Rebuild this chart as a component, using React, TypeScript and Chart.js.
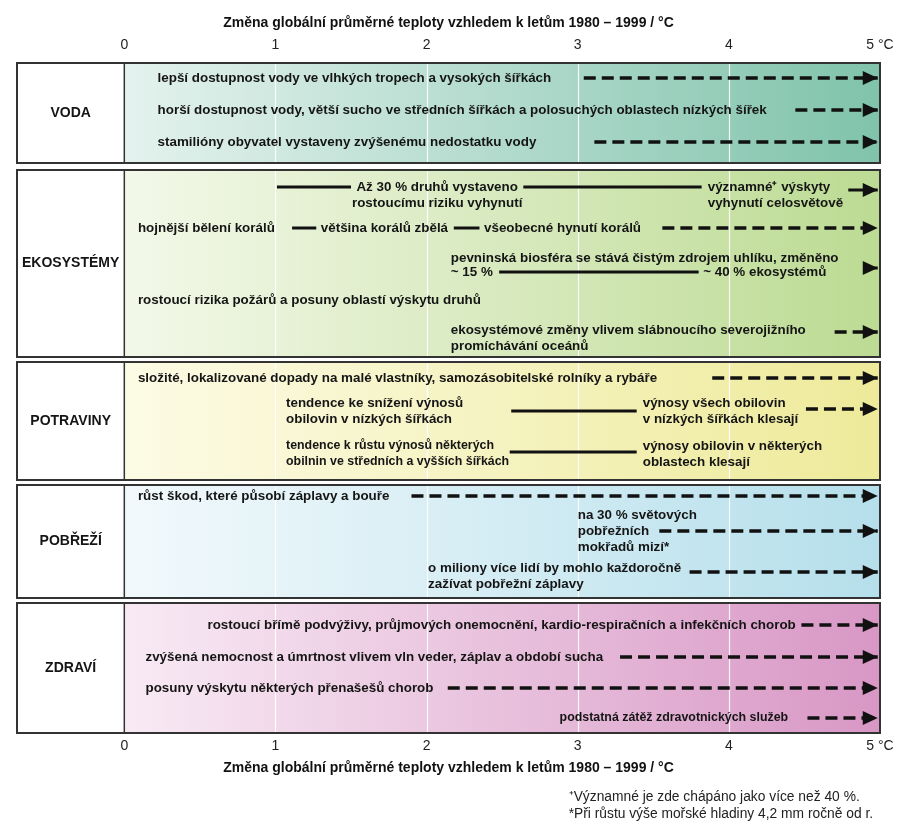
import React, { useEffect, useRef } from 'react';
import { Chart, registerables } from 'chart.js';
Chart.register(...registerables);

const FONT = '"Liberation Sans", Arial, sans-serif';

const PANELS = ['VODA', 'EKOSYSTÉMY', 'POTRAVINY', 'POBŘEŽÍ', 'ZDRAVÍ'];
const PANEL_FROM = [0, 10.7, 29.9, 42.2, 54.0];
const PANEL_TO = [10.0, 29.4, 41.7, 53.5, 67.0];
const PANEL_LEFT_COLORS = ['#e4f2ee', '#f3f8e9', '#fcfbe5', '#f2f9fc', '#f8eaf4'];
const PANEL_RIGHT_COLORS = ['#80c3ab', '#bcdb93', '#eeea9a', '#b5dfeb', '#d897c5'];

const X_TICKS = [0, 1, 2, 3, 4, 5];
const X_TICK_LABELS = ['0', '1', '2', '3', '4', '5 °C'];
const AXIS_TITLE = 'Změna globální průměrné teploty vzhledem k letům 1980 – 1999 / °C';

// dashed trends ending with an arrow: [from °C, to °C, row]
const DASHED: number[][] = [
  [3.04, 4.985, 1.5], [4.44, 4.985, 4.7], [3.11, 4.985, 7.9],
  [3.56, 4.985, 16.5], [4.70, 4.985, 26.9],
  [3.89, 4.985, 31.5], [4.51, 4.985, 34.6],
  [1.90, 4.985, 43.3], [3.54, 4.985, 46.8], [3.74, 4.985, 50.9],
  [4.48, 4.985, 56.2], [3.28, 4.985, 59.4], [2.14, 4.985, 62.5], [4.52, 4.985, 65.5],
];
// solid connectors: [from °C, to °C, row]
const SOLID: number[][] = [
  [1.01, 1.50, 12.4], [2.64, 3.82, 12.4],
  [1.11, 1.27, 16.5], [2.18, 2.35, 16.5],
  [2.48, 3.80, 20.9],
  [2.56, 3.39, 34.8], [2.55, 3.39, 38.9],
];
// solid with arrow: [from °C, to °C, row]
const SOLID_ARROWS: number[][] = [[4.79, 4.985, 12.7], [4.92, 4.985, 20.5]];

// text labels: [text, x °C, row, align]
const LABELS: [string, number, number, string][] = [
  ['lepší dostupnost vody ve vlhkých tropech a vysokých šířkách', 0.22, 1.5, 'left'],
  ['horší dostupnost vody, větší sucho ve středních šířkách a polosuchých oblastech nízkých šířek', 0.22, 4.7, 'left'],
  ['stamilióny obyvatel vystaveny zvýšenému nedostatku vody', 0.22, 7.9, 'left'],
  ['Až 30 % druhů vystaveno\nrostoucímu riziku vyhynutí', 2.07, 12.4, 'center'],
  ['významné⁺ výskyty\nvyhynutí celosvětově', 3.86, 12.4, 'left'],
  ['hojnější bělení korálů', 0.09, 16.5, 'left'],
  ['většina korálů zbělá', 1.30, 16.5, 'left'],
  ['všeobecné hynutí korálů', 2.38, 16.5, 'left'],
  ['pevninská biosféra se stává čistým zdrojem uhlíku, změněno', 2.16, 19.5, 'left'],
  ['~ 15 %', 2.16, 20.9, 'left'],
  ['~ 40 % ekosystémů', 3.83, 20.9, 'left'],
  ['rostoucí rizika požárů a posuny oblastí výskytu druhů', 0.09, 23.7, 'left'],
  ['ekosystémové změny vlivem slábnoucího severojižního\npromíchávání oceánů', 2.16, 26.7, 'left'],
  ['složité, lokalizované dopady na malé vlastníky, samozásobitelské rolníky a rybáře', 0.09, 31.5, 'left'],
  ['tendence ke snížení výnosů\nobilovin v nízkých šířkách', 1.07, 34.0, 'left'],
  ['výnosy všech obilovin\nv nízkých šířkách klesají', 3.43, 34.0, 'left'],
  ['tendence k růstu výnosů některých\nobilnin ve středních a vyšších šířkách', 1.07, 38.3, 'left'],
  ['výnosy obilovin v některých\noblastech klesají', 3.43, 38.3, 'left'],
  ['růst škod, které působí záplavy a bouře', 0.09, 43.3, 'left'],
  ['na 30 % světových\npobřežních\nmokřadů mizí*', 3.0, 45.2, 'left'],
  ['o miliony více lidí by mohlo každoročně\nzažívat pobřežní záplavy', 2.01, 50.5, 'left'],
  ['rostoucí břímě podvýživy, průjmových onemocnění, kardio-respiračních a infekčních chorob', 0.55, 56.2, 'left'],
  ['zvýšená nemocnost a úmrtnost vlivem vln veder, záplav a období sucha', 0.14, 59.4, 'left'],
  ['posuny výskytu některých přenašešů chorob', 0.14, 62.5, 'left'],
  ['podstatná zátěž zdravotnických služeb', 2.88, 65.5, 'left'],
];
// labels set in a narrower type in the original
const NARROW_LABELS = [16, 24];

const FOOTNOTES = [
  '⁺Významné je zde chápáno jako více než 40 %.',
  '*Při růstu výše mořské hladiny 4,2 mm ročně od r.',
];
const FOOTNOTE_X = 2.94;

const panelPlugin = {
  id: 'panels',
  beforeDatasetsDraw(chart: any) {
    const { ctx, chartArea, scales } = chart;
    const x = scales.x, y = scales.y;
    const xl = chartArea.left;
    const x0 = x.getPixelForValue(0);
    const x5 = x.getPixelForValue(5);
    ctx.save();
    PANELS.forEach((name, i) => {
      const top = y.getPixelForValue(PANEL_FROM[i]);
      const bot = y.getPixelForValue(PANEL_TO[i]);
      ctx.fillStyle = '#ffffff';
      ctx.fillRect(xl, top, x0 - xl, bot - top);
      const g = ctx.createLinearGradient(x0, 0, x5, 0);
      g.addColorStop(0, PANEL_LEFT_COLORS[i]);
      g.addColorStop(1, PANEL_RIGHT_COLORS[i]);
      ctx.fillStyle = g;
      ctx.fillRect(x0, top, x5 - x0, bot - top);
      ctx.strokeStyle = 'rgba(255,255,255,0.9)';
      ctx.lineWidth = 1.2;
      [1, 2, 3, 4].forEach((t) => {
        const px = Math.round(x.getPixelForValue(t)) + 0.5;
        ctx.beginPath();
        ctx.moveTo(px, top);
        ctx.lineTo(px, bot);
        ctx.stroke();
      });
      ctx.fillStyle = '#151515';
      ctx.font = `bold 14px ${FONT}`;
      ctx.textAlign = 'center';
      ctx.textBaseline = 'middle';
      ctx.fillText(name, (xl + x0) / 2, (top + bot) / 2);
      ctx.strokeStyle = '#333333';
      ctx.lineWidth = 2;
      ctx.strokeRect(xl, top, x5 - xl, bot - top);
      ctx.lineWidth = 1.5;
      ctx.beginPath();
      ctx.moveTo(x0, top);
      ctx.lineTo(x0, bot);
      ctx.stroke();
    });
    ctx.fillStyle = '#151515';
    ctx.textBaseline = 'middle';
    LABELS.forEach(([text, vx, row, align], idx) => {
      const px = x.getPixelForValue(vx);
      const py = y.getPixelForValue(row);
      ctx.font = NARROW_LABELS.includes(idx) ? `bold 12.4px ${FONT}` : `bold 13.4px ${FONT}`;
      ctx.textAlign = align as CanvasTextAlign;
      text.split('\n').forEach((line, k) => ctx.fillText(line, px, py + k * 16));
    });
    ctx.restore();
  },
  afterDatasetsDraw(chart: any) {
    const { ctx } = chart;
    ctx.save();
    ctx.fillStyle = '#111111';
    chart.data.datasets.forEach((ds: any, i: number) => {
      if (!ds.arrow) return;
      const meta = chart.getDatasetMeta(i);
      const p = meta.data[meta.data.length - 1];
      ctx.beginPath();
      ctx.moveTo(p.x, p.y);
      ctx.lineTo(p.x - 15, p.y - 7);
      ctx.lineTo(p.x - 15, p.y + 7);
      ctx.closePath();
      ctx.fill();
    });
    ctx.restore();
  },
  afterDraw(chart: any) {
    const { ctx, chartArea, scales } = chart;
    ctx.save();
    ctx.fillStyle = '#222222';
    ctx.font = `13.8px ${FONT}`;
    ctx.textAlign = 'left';
    ctx.textBaseline = 'middle';
    const px = scales.x.getPixelForValue(FOOTNOTE_X);
    FOOTNOTES.forEach((t, k) => ctx.fillText(t, px, chartArea.bottom + 64 + k * 17));
    ctx.restore();
  },
};

export default function App() {
  const ref = useRef<HTMLCanvasElement>(null);
  useEffect(() => {
    document.body.style.margin = '0';
    const canvas = ref.current!;
    const datasets: any[] = [];
    const seg = (a: number, b: number, r: number, dashed: boolean, arrow: boolean) => ({
      data: [{ x: a, y: r }, { x: b, y: r }],
      showLine: true,
      borderColor: '#111111',
      backgroundColor: '#111111',
      borderWidth: dashed ? 3.5 : 3,
      borderDash: dashed ? [12, 6] : [],
      pointRadius: 0,
      pointHoverRadius: 0,
      arrow,
    });
    DASHED.forEach(([a, b, r]) => datasets.push(seg(a, b, r, true, true)));
    SOLID.forEach(([a, b, r]) => datasets.push(seg(a, b, r, false, false)));
    SOLID_ARROWS.forEach(([a, b, r]) => datasets.push(seg(a, b, r, false, true)));

    const tickCb = (v: any) => {
      const i = X_TICKS.indexOf(Number(v));
      return i >= 0 ? X_TICK_LABELS[i] : '';
    };
    const setTicks = (s: any) => {
      s.ticks = X_TICKS.map((v) => ({ value: v }));
    };

    const chart = new Chart(canvas, {
      type: 'scatter',
      data: { datasets },
      options: {
        animation: false,
        responsive: false,
        devicePixelRatio: 1,
        layout: { padding: { left: 17, right: 24, top: 14.6, bottom: 49.6 } },
        plugins: { legend: { display: false }, tooltip: { enabled: false } },
        events: [],
        scales: {
          x: {
            type: 'linear',
            position: 'bottom',
            min: -0.71,
            max: 5,
            afterBuildTicks: setTicks,
            ticks: { callback: tickCb, font: { size: 14, family: FONT }, color: '#222', padding: 3.6, maxRotation: 0, autoSkip: false },
            grid: { display: true, color: 'rgba(0,0,0,0)', drawOnChartArea: false, drawTicks: true, tickLength: 1 },
            border: { display: false },
            title: { display: true, text: AXIS_TITLE, color: '#111', font: { size: 14, weight: 'bold', family: FONT }, padding: { top: 1.6, bottom: 0 } },
          },
          x2: {
            type: 'linear',
            position: 'top',
            min: -0.71,
            max: 5,
            afterBuildTicks: setTicks,
            ticks: { callback: tickCb, font: { size: 14, family: FONT }, color: '#222', padding: 3, maxRotation: 0, autoSkip: false },
            grid: { display: true, color: 'rgba(0,0,0,0)', drawOnChartArea: false, drawTicks: true, tickLength: 6.6 },
            border: { display: false },
            title: { display: true, text: AXIS_TITLE, color: '#111', font: { size: 14, weight: 'bold', family: FONT }, padding: { top: 0, bottom: 2.2 } },
          },
          y: { type: 'linear', min: 0, max: 67, reverse: true, display: false },
        },
      } as any,
      plugins: [panelPlugin],
    });
    return () => chart.destroy();
  }, []);
  return (
    <div style={{ width: 904, height: 826 }}>
      <canvas ref={ref} width={904} height={826} style={{ display: 'block' }} />
    </div>
  );
}
